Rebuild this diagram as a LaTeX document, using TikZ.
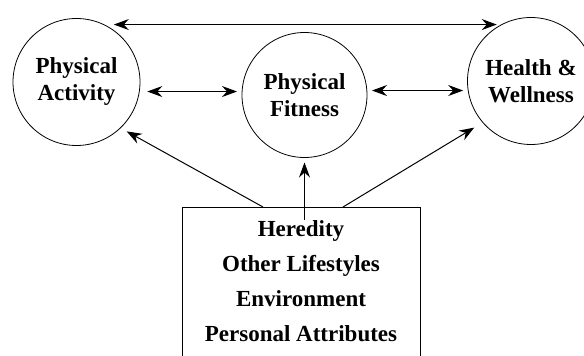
\documentclass[tikz,border=0pt]{standalone}
\usepackage{fontspec}
\setmainfont{Liberation Serif}
\usetikzlibrary{arrows.meta,calc}
\begin{document}
\begin{tikzpicture}[x=1pt,y=1pt,
  every node/.style={font=\bfseries\fontsize{23}{27}\selectfont},
  factor/.style={circle, draw, line width=0.8pt, minimum size=127pt, inner sep=0pt, outer sep=5pt, align=center},
  tip/.tip={Stealth[length=15pt,width=11pt,inset=5pt]},
  link/.style={line width=1pt, -tip},
  dbl/.style={line width=1pt, tip-tip}]
\useasboundingbox (0,0) rectangle (584,356);
% the three circles
\node[factor] (pa) at (76.5,274) {Physical\\Activity};
\node[factor, minimum size=125pt] (pf) at (304.5,261) {Physical\\Fitness};
\node[factor] (hw) at (531,275) {Health \&\\Wellness};
% influencing factors
\node[draw, line width=0.8pt, minimum width=238pt, minimum height=152pt,
      anchor=north, align=center, font=\bfseries\fontsize{23}{35}\selectfont]
      (box) at (301,149) {Heredity\\Other Lifestyles\\Environment\\Personal Attributes\rule[-5pt]{0pt}{5pt}};
% two-way links between the circles
\draw[dbl] (pa.57) -- (pa.57 -| hw.120);
\draw[dbl, shorten <=3pt] (pa.-8) -- (pa.-8 -| pf.west);
\draw[dbl] (hw.188 -| pf.east) -- (hw.188);
% links from the factors
\draw[link, shorten >=2pt] ([xshift=-38pt]box.north) -- (pa.-45);
\draw[link, shorten >=5pt] ([xshift=42pt]box.north) -- (hw.220);
\draw[link] ([yshift=-13pt]box.north -| pf.south) -- (pf.south);
\end{tikzpicture}
\end{document}
